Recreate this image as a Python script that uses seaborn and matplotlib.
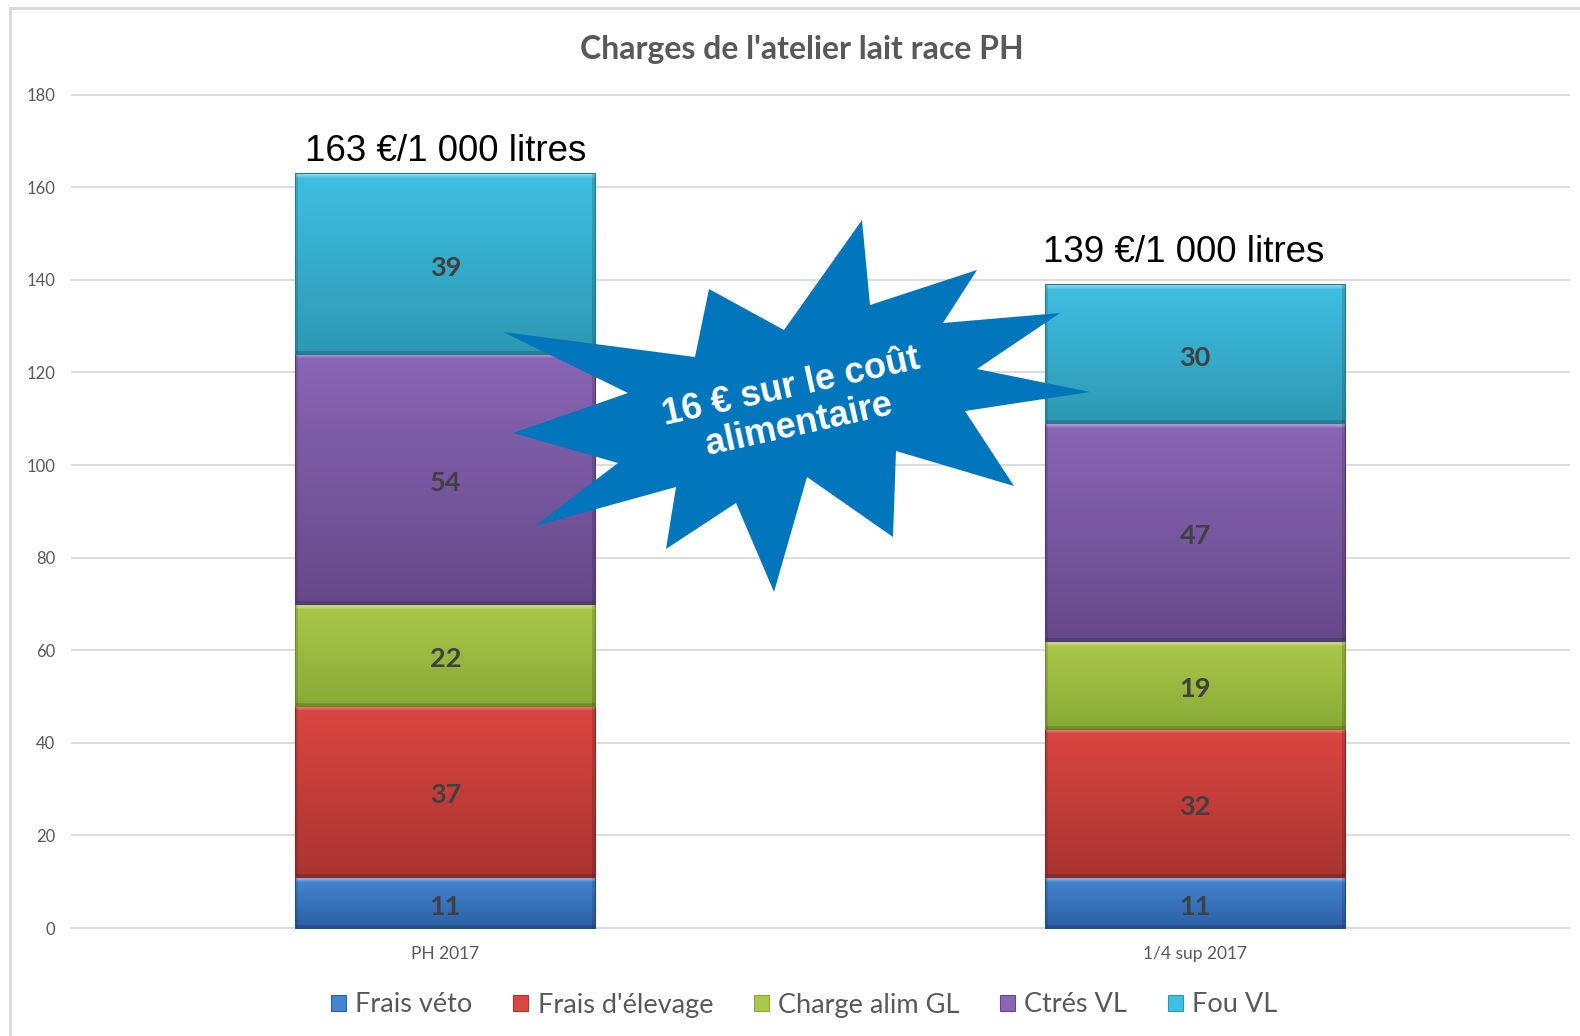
import numpy as np
import matplotlib
matplotlib.use("Agg")
import matplotlib.pyplot as plt
import seaborn as sns
from matplotlib.colors import to_rgb
from matplotlib.patches import Patch, Polygon
from matplotlib.lines import Line2D

# --- data ---
categories = ["PH 2017", "1/4 sup 2017"]
series = ["Frais véto", "Frais d'élevage", "Charge alim GL", "Ctrés VL", "Fou VL"]
frais_veto = [11, 11]
frais_elevage = [37, 32]
charge_alim_gl = [22, 19]
ctres_vl = [54, 47]
fou_vl = [39, 30]
totals = [163, 139]
values = [frais_veto, frais_elevage, charge_alim_gl, ctres_vl, fou_vl]

# gradient colours (top of segment -> bottom of segment)
top_colors = ["#4686d1", "#dc4641", "#aac94b", "#8966b6", "#3fbfe3"]
bottom_colors = ["#2c60a7", "#a93431", "#88a935", "#664989", "#2d98b3"]

# figure geometry in pixels
W, H = 1580, 1036
AX_LEFT, AX_RIGHT, AX_TOP, AX_BOTTOM = 70.5, 1570, 93.7, 929

# total labels: vertical offset above bar (px) and horizontal shift (px)
total_dy = [12, 22]
total_dx = [0, -11]

# starburst outline (px, from the top-left corner of the picture)
star_px = [(862, 220), (870, 305), (977, 270), (943, 323), (1060, 313),
           (977, 369), (1090, 392), (965, 411), (1014, 486), (896, 451),
           (893, 537), (807, 477), (774, 592), (736, 503), (666, 549),
           (676, 487), (535, 526), (618, 463), (513, 433), (628, 393),
           (503, 332), (695, 357), (709, 289), (784, 330)]


def fig_xy(x, y):
    return x / W, 1 - y / H


sns.set_theme(style="white")
plt.rcParams["font.family"] = ["Lato", "DejaVu Sans"]

fig = plt.figure(figsize=(W / 100, H / 100), dpi=100, facecolor="white")
ax = fig.add_axes([AX_LEFT / W, 1 - AX_BOTTOM / H,
                   (AX_RIGHT - AX_LEFT) / W, (AX_BOTTOM - AX_TOP) / H])

bottom = np.zeros(len(categories))
containers = []
for vals, col in zip(values, top_colors):
    sns.barplot(x=categories, y=vals, bottom=bottom.copy(), width=0.4,
                color=col, saturation=1, errorbar=None, ax=ax, zorder=2)
    containers.append(ax.containers[-1])
    bottom += np.array(vals)

ax.set_xlim(-0.5, 1.5)
ax.set_ylim(-0.2, 180.2)

# shaded bars: vertical gradient with a light bevel on top
ppy = ax.bbox.height / 180.4
ppx = ax.bbox.width / 2.0
for cont, c_top, c_bot in zip(containers, top_colors, bottom_colors):
    t_rgb, b_rgb = np.array(to_rgb(c_top)), np.array(to_rgb(c_bot))
    for patch in cont.patches:
        x0, y0 = patch.get_x(), patch.get_y()
        w, h = patch.get_width(), patch.get_height()
        nr = max(int(round(h * ppy)), 8)
        nc = max(int(round(w * ppx)), 8)
        t = np.linspace(0, 1, nr)[:, None]
        body = t_rgb * (1 - t) + b_rgb * t
        img = np.repeat(body[:, None, :], nc, axis=1)
        bev = np.linspace(0.5, 0.0, 6)
        for k, f in enumerate(bev):
            img[k] = img[k] * (1 - f) + f
        img[:, :3] *= 0.88
        img[:, -3:] *= 0.85
        img[-3:] *= 0.85
        im = ax.imshow(np.clip(img, 0, 1), extent=[x0, x0 + w, y0, y0 + h],
                       origin="upper", aspect="auto", zorder=2.5,
                       interpolation="bilinear")
        im.set_clip_path(patch)
        patch.set_facecolor("none")
        patch.set_edgecolor(tuple(b_rgb * 0.8))
        patch.set_linewidth(0.8)
        patch.set_zorder(3)

# segment values, centred in each segment
for cont, vals in zip(containers, values):
    for patch, v in zip(cont.patches, vals):
        ax.annotate(str(v), xy=(patch.get_x() + patch.get_width() / 2,
                                patch.get_y() + patch.get_height() / 2),
                    xytext=(0, -4), textcoords="offset pixels",
                    ha="center", va="center", fontsize=19.5,
                    fontweight="bold", color="#404040", zorder=4)

for i, tot in enumerate(totals):
    ax.annotate(f"{tot} €/1 000 litres", xy=(i, tot),
                xytext=(total_dx[i], total_dy[i]), textcoords="offset pixels",
                ha="center", va="baseline", fontsize=26.5,
                family=["Liberation Sans", "DejaVu Sans"], color="black",
                zorder=5)

ax.set_xlim(-0.5, 1.5)
ax.set_ylim(-0.2, 180.2)
ax.set_yticks(range(0, 181, 20))
ax.yaxis.grid(True, color="#d9d9d9", linewidth=1.3)
ax.set_axisbelow(True)
sns.despine(ax=ax, left=True, bottom=True)
ax.tick_params(axis="y", length=0, pad=11, labelsize=12, labelcolor="#595959")
ax.tick_params(axis="x", length=0, pad=12, labelsize=12.5, labelcolor="#595959")
ax.set_xlabel("")
ax.set_ylabel("")

# starburst callout
star = Polygon([fig_xy(x, y) for x, y in star_px], closed=True,
               transform=fig.transFigure, facecolor="#0176bd",
               edgecolor="none", zorder=10)
fig.add_artist(star)
fig.text(*fig_xy(795, 406), "16 € sur le coût\nalimentaire", rotation=12.5,
         rotation_mode="anchor", ha="center", va="center",
         multialignment="center", fontsize=26, fontweight="bold",
         color="white", family=["Liberation Sans", "DejaVu Sans"],
         linespacing=1.15, zorder=11)

# title
fig.text(*fig_xy(802, 59), "Charges de l'atelier lait race PH", ha="center",
         va="baseline", fontsize=23, fontweight="bold", color="#595959")

# legend
handles = [Patch(facecolor=c, edgecolor=e, linewidth=0.8)
           for c, e in zip(top_colors, bottom_colors)]
fig.legend(handles, series, loc="center", bbox_to_anchor=fig_xy(804, 1005),
           ncol=5, frameon=False, fontsize=19.5, handlelength=0.55,
           handleheight=0.55, handletextpad=0.35, columnspacing=1.5,
           labelcolor="#595959")

# chart-area border
for xs, ys in [([10, 10], [8, H]), ([10, W], [8, 8])]:
    fig.add_artist(Line2D([x / W for x in xs], [1 - y / H for y in ys],
                          transform=fig.transFigure, color="#d9d9d9",
                          linewidth=2))

fig.savefig("out.png", dpi=100, facecolor="white")
